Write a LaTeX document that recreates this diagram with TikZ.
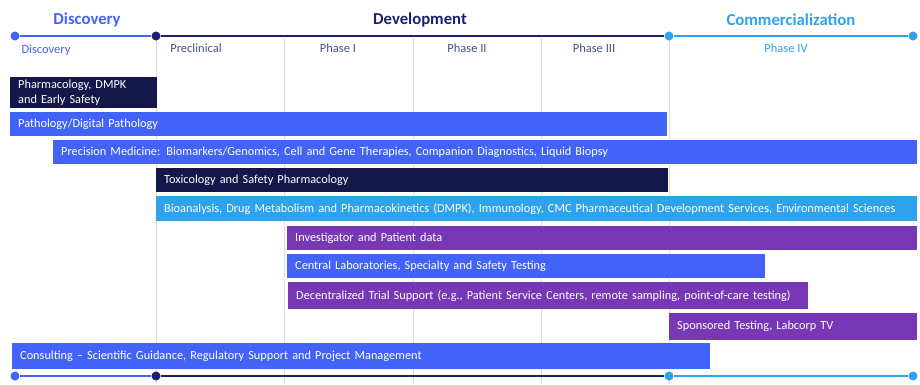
\documentclass[tikz,border=0pt]{standalone}
\usepackage{fontspec}
\setmainfont{Carlito}
\usepackage{tikz}
\usetikzlibrary{calc}

\definecolor{discblue}{HTML}{4263F5}
\definecolor{devnavy}{HTML}{14174A}
\definecolor{devline}{HTML}{1C1F70}
\definecolor{comblue}{HTML}{2EA3EC}
\definecolor{trialpurple}{HTML}{7837B5}
\definecolor{phasegray}{HTML}{4A4F8A}
\definecolor{gridgray}{HTML}{DCDCDC}

\tikzset{
  bar/.style={anchor=north west, inner xsep=8pt, inner ysep=0pt, align=left,
    text=white, font=\fontsize{12.3}{15}\selectfont},
  header/.style={font=\fontsize{16.7}{19}\selectfont\bfseries},
  phase/.style={font=\fontsize{12.5}{14}\selectfont, text=phasegray},
  dot/.style={circle, inner sep=0pt, minimum size=9pt},
}

\begin{document}
\begin{tikzpicture}[x=1pt,y=-1pt]
        \useasboundingbox (0,0) rectangle (920,384);
        % grid
        \foreach \gx in {156,284,413,541,669}
            \draw[gridgray, line width=0.8pt] (\gx,38) -- (\gx,384);

        % top timeline
        \node[dot, fill=discblue] (t1) at (15,36) {};
        \node[dot, fill=devline] (t2) at (156,36) {};
        \node[dot, fill=comblue] (t3) at (669,36) {};
        \node[dot, fill=comblue] (t4) at (913,36) {};
        \draw[discblue, line width=2.2pt] (t1) -- (t2);
        \draw[devline, line width=2.6pt] (t2) -- (t3);
        \draw[comblue, line width=2.2pt] (t3) -- (t4);

        % bottom timeline
        \node[dot, fill=discblue] (b1) at (15,376) {};
        \node[dot, fill=devline] (b2) at (156,376) {};
        \node[dot, fill=comblue] (b3) at (669,376) {};
        \node[dot, fill=comblue] (b4) at (913,376) {};
        \draw[discblue, line width=2.2pt] (b1) -- (b2);
        \draw[devline, line width=2.6pt] (b2) -- (b3);
        \draw[comblue, line width=2.2pt] (b3) -- (b4);

        % headers
        \node[header, text=discblue] (hdisc) at (87,20) {Discovery};
        \node[header, text=devline] (hdev) at (420,20) {Development};
        \node[header, text=comblue] (hcom) at (791,20) {Commercialization};

        % phases
        \node[phase, text=discblue] (pdisc) at (46,50) {Discovery};
        \node[phase] (ppre) at (196,48) {Preclinical};
        \node[phase] (pone) at (338,48) {Phase I};
        \node[phase] (ptwo) at (467,48) {Phase II};
        \node[phase] (pthree) at (594,48) {Phase III};
        \node[phase, text=comblue] (pfour) at (786,48) {Phase IV};

        % service bars
        \node[bar, fill=devnavy, text width=131, minimum height=31] (pharma) at (10,77)
            {Pharmacology, DMPK\\and Early Safety};
        \node[bar, fill=discblue, text width=641, minimum height=24] (patho) at (10,112)
            {Pathology/Digital Pathology};
        \node[bar, fill=discblue, text width=848, minimum height=24] (precis) at (53,140)
            {Precision Medicine: Biomarkers/Genomics, Cell and Gene Therapies, Companion Diagnostics, Liquid Biopsy};
        \node[bar, fill=devnavy, text width=496, minimum height=24] (tox) at (156,168)
            {Toxicology and Safety Pharmacology};
        \node[bar, fill=comblue, text width=745, minimum height=25] (bioan) at (156,196)
            {Bioanalysis, Drug Metabolism and Pharmacokinetics (DMPK), Immunology, CMC Pharmaceutical Development Services, Environmental Sciences};
        \node[bar, fill=trialpurple, text width=614, minimum height=24] (invest) at (287,226)
            {Investigator and Patient data};
        \node[bar, fill=discblue, text width=462, minimum height=24] (central) at (287,254)
            {Central Laboratories, Specialty and Safety Testing};
        \node[bar, fill=trialpurple, text width=504, minimum height=27] (decent) at (288,282)
            {Decentralized Trial Support (e.g., Patient Service Centers, remote sampling, point-of-care testing)};
        \node[bar, fill=trialpurple, text width=232, minimum height=27] (spons) at (669,313)
            {Sponsored Testing, Labcorp TV};
        \node[bar, fill=discblue, text width=682, minimum height=26] (consult) at (12,343)
            {Consulting -- Scientific Guidance, Regulatory Support and Project Management};
\end{tikzpicture}
\end{document}
